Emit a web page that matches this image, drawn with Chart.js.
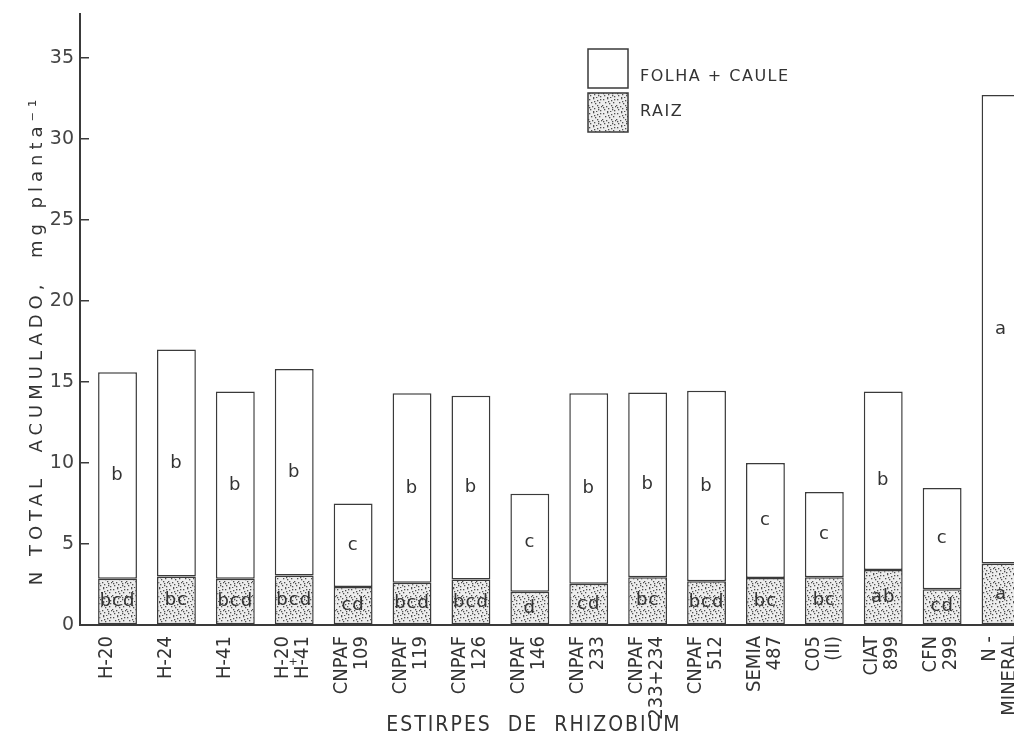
<!DOCTYPE html>
<html>
<head>
<meta charset="utf-8">
<title>N total acumulado por estirpe de Rhizobium</title>
<script src="https://cdn.jsdelivr.net/npm/chart.js@4/dist/chart.umd.min.js"></script>
<style>
  html, body { margin: 0; padding: 0; background: #ffffff; overflow: hidden; }
  #wrap { width: 1014px; height: 738px; }
</style>
</head>
<body>
<div id="wrap"><canvas id="c" width="1014" height="738"></canvas></div>
<script>
// Estirpes (one entry per bar; arrays are the stacked lines of each tick label)
const strains = [
  ["H-20"], ["H-24"], ["H-41"], ["H-20", "H-41"],
  ["CNPAF", "109"], ["CNPAF", "119"], ["CNPAF", "126"], ["CNPAF", "146"],
  ["CNPAF", "233"], ["CNPAF", "233+234"], ["CNPAF", "512"],
  ["SEMIA", "487"], ["C05", "(II)"], ["CIAT", "899"], ["CFN", "299"],
  ["N -", "MINERAL"]
];
// the mixed inoculation H-20 + H-41 gets a small "+" between its two label lines
const mixIndex = 3;

// N total acumulado (mg planta-1): whole plant and root part
const totalN = [15.6, 17.0, 14.4, 15.8, 7.5, 14.3, 14.15, 8.1, 14.3, 14.35, 14.45, 10.0, 8.2, 14.4, 8.45, 32.7];
const rootN  = [2.85, 3.0, 2.85, 3.05, 2.35, 2.6, 2.8, 2.05, 2.55, 2.95, 2.7, 2.9, 2.95, 3.4, 2.2, 3.8];

// Letras de comparação de médias
const shootLetters = ["b", "b", "b", "b", "c", "b", "b", "c", "b", "b", "b", "c", "c", "b", "c", "a"];
const rootLetters  = ["bcd", "bc", "bcd", "bcd", "cd", "bcd", "bcd", "d", "cd", "bc", "bcd", "bc", "bc", "ab", "cd", "a"];

const yTicks = [0, 5, 10, 15, 20, 25, 30, 35];

const INK = "#3a3a3a";
const FONT = "'DejaVu Sans', 'Liberation Sans', sans-serif";
const NARROW = "'DejaVu Sans Condensed', 'Liberation Sans Narrow', 'DejaVu Sans', sans-serif";

// Stippled fill for the root segments
function stipple() {
  const t = document.createElement("canvas");
  t.width = 14; t.height = 14;
  const g = t.getContext("2d");
  g.fillStyle = "#ededed";
  g.fillRect(0, 0, 14, 14);
  g.fillStyle = "#505050";
  const dots = [
    [1,1],[5,0],[9,2],[12,1],[3,4],[7,5],[11,4],[0,7],[4,8],[9,7],
    [13,8],[2,11],[6,10],[10,11],[12,12],[5,13],[8,13],[1,9],[6,3],[10,9]
  ];
  dots.forEach(([x, y]) => g.fillRect(x, y, 1.3, 1.3));
  return g.createPattern(t, "repeat");
}
const rootFill = stipple();

const shootN = totalN.map((t, i) => +(t - rootN[i]).toFixed(2));

// Titles, legend and the letters inside the bars
const annotations = {
  id: "annotations",
  afterDatasetsDraw(chart) {
    const ctx = chart.ctx;
    ctx.save();
    ctx.fillStyle = "#333";
    ctx.textAlign = "center";
    ctx.textBaseline = "middle";
    ctx.font = "18px " + FONT;
    ctx.letterSpacing = "1px";
    const [rootMeta, shootMeta] = [chart.getDatasetMeta(0), chart.getDatasetMeta(1)];
    shootMeta.data.forEach((el, i) => {
      ctx.fillText(shootLetters[i], el.x, (el.y + el.base) / 2);
    });
    rootMeta.data.forEach((el, i) => {
      ctx.fillText(rootLetters[i], el.x, (el.y + el.base) / 2);
    });

    // "+" joining the two strains of the mixed inoculation
    const xs = chart.scales.x;
    ctx.font = "11px " + FONT;
    ctx.letterSpacing = "0px";
    ctx.fillText("+", xs.getPixelForValue(mixIndex) - 1, 662);

    // legend
    const lx = 588, bw = 40, bh = 39;
    ctx.lineWidth = 1.5;
    ctx.strokeStyle = INK;
    ctx.fillStyle = "#ffffff";
    ctx.fillRect(lx, 49, bw, bh);
    ctx.strokeRect(lx, 49, bw, bh);
    ctx.fillStyle = rootFill;
    ctx.fillRect(lx, 93, bw, bh);
    ctx.strokeRect(lx, 93, bw, bh);
    ctx.fillStyle = "#333";
    ctx.textAlign = "left";
    ctx.font = "16px " + FONT;
    ctx.letterSpacing = "1.5px";
    ctx.fillText(chart.data.datasets[1].label, 640, 77);
    ctx.fillText(chart.data.datasets[0].label, 640, 112);

    // x title
    ctx.textAlign = "center";
    ctx.font = "21px " + NARROW;
    ctx.letterSpacing = "2px";
    ctx.fillText("ESTIRPES  DE  RHIZOBIUM", 534, 726);

    // y title
    ctx.translate(37, 340);
    ctx.rotate(-Math.PI / 2);
    ctx.font = "18px " + FONT;
    ctx.letterSpacing = "5px";
    ctx.fillText("N TOTAL  ACUMULADO,  mg planta\u207B\u00B9", 0, 0);
    ctx.restore();
  }
};

new Chart(document.getElementById("c"), {
  type: "bar",
  data: {
    datasets: [
      {
        label: "RAIZ",
        data: rootN.map((v, i) => ({ x: i, y: v })),
        backgroundColor: rootFill,
        borderColor: INK,
        borderWidth: 1.5,
        borderSkipped: false
      },
      {
        label: "FOLHA + CAULE",
        data: shootN.map((v, i) => ({ x: i, y: v })),
        backgroundColor: "#ffffff",
        borderColor: INK,
        borderWidth: 1.5,
        borderSkipped: false
      }
    ]
  },
  options: {
    responsive: false,
    animation: false,
    events: [],
    layout: { padding: { top: 14, right: 0, left: 0, bottom: 0 } },
    datasets: { bar: { categoryPercentage: 1, barPercentage: 0.66 } },
    plugins: { legend: { display: false }, tooltip: { enabled: false } },
    scales: {
      x: {
        type: "linear",
        stacked: true,
        offset: false,
        min: -0.637,
        max: 15.22,
        grid: { display: true, offset: false, drawOnChartArea: false, drawTicks: false },
        border: { display: true, color: INK, width: 2 },
        afterBuildTicks(scale) {
          scale.ticks = strains.map((_, i) => ({ value: i }));
        },
        afterFit(scale) {
          scale.height = 113;
          scale.paddingLeft = 0;
          scale.paddingRight = 0;
        },
        ticks: {
          autoSkip: false,
          minRotation: 90,
          maxRotation: 90,
          padding: 11,
          labelOffset: -11,
          color: "#333",
          font: { family: NARROW, size: 20, lineHeight: 1.0 },
          callback: (v) => strains[v] || ""
        }
      },
      y: {
        stacked: true,
        min: 0,
        max: 37.7,
        grid: { display: true, drawOnChartArea: false, drawTicks: true, tickLength: -9, color: INK, lineWidth: 1.5 },
        border: { display: true, color: INK, width: 2 },
        afterBuildTicks(scale) {
          scale.ticks = yTicks.map(v => ({ value: v }));
        },
        afterFit(scale) {
          scale.width = 80;
          scale.paddingTop = 0;
          scale.paddingBottom = 0;
        },
        ticks: {
          padding: 15,
          color: "#444",
          font: { family: FONT, size: 19 }
        }
      }
    }
  },
  plugins: [annotations]
});
</script>
</body>
</html>
